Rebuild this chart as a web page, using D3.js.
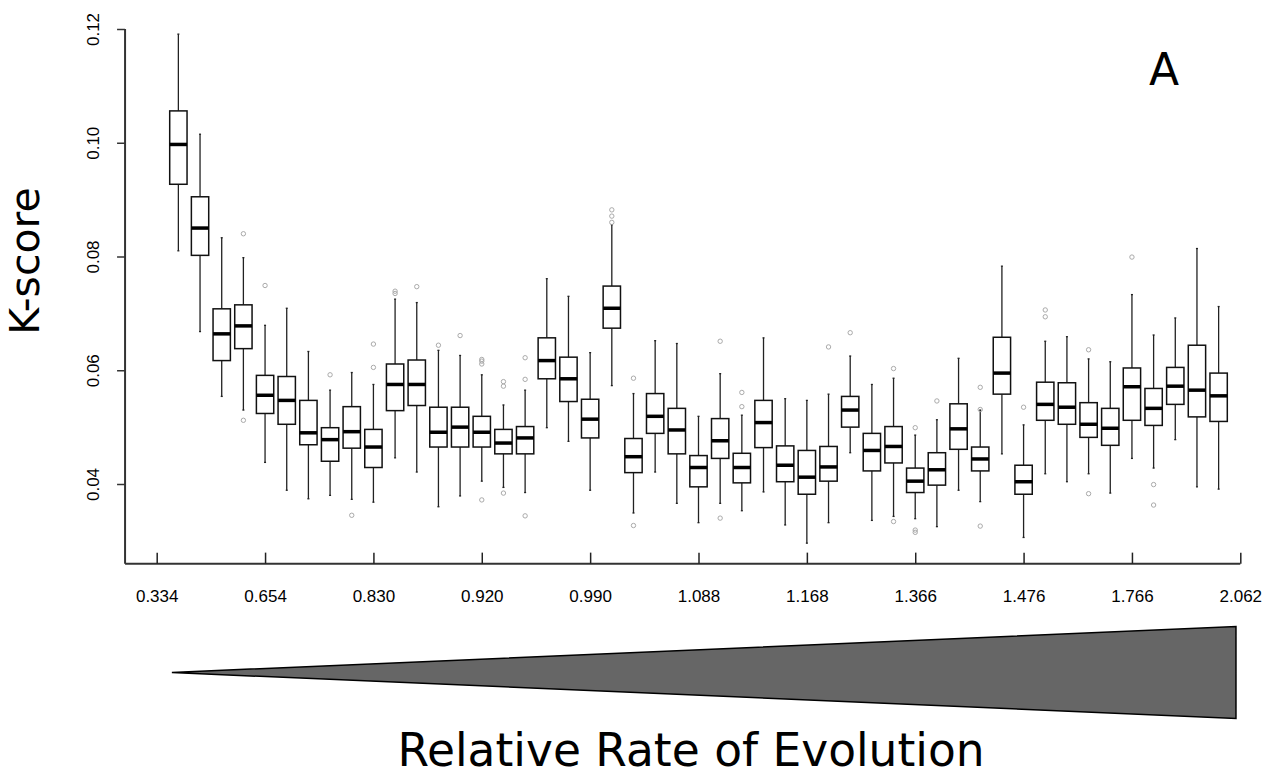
<!DOCTYPE html>
<html>
<head>
<meta charset="utf-8">
<script src="https://cdn.jsdelivr.net/npm/d3@7"></script>
<style>
  html, body { margin: 0; padding: 0; background: #fff; }
  svg { display: block; }
  .tick text { font-family: "Liberation Sans", Arial, sans-serif; font-size: 17px; fill: #000; }
  .title { font-family: "DejaVu Sans", Verdana, sans-serif; fill: #000; }
</style>
</head>
<body>
<svg width="1265" height="776"></svg>
<script>
// box statistics, one entry per bin (positions 1..49)
const whiskerLow = [0.0810, 0.0668, 0.0554, 0.0530, 0.0438, 0.0389, 0.0374, 0.0380, 0.0373, 0.0368,
                    0.0446, 0.0421, 0.0360, 0.0379, 0.0405, 0.0394, 0.0385, 0.0499, 0.0475, 0.0389,
                    0.0573, 0.0349, 0.0421, 0.0366, 0.0332, 0.0366, 0.0353, 0.0386, 0.0328, 0.0296,
                    0.0332, 0.0455, 0.0336, 0.0343, 0.0339, 0.0325, 0.0389, 0.0369, 0.0453, 0.0306,
                    0.0418, 0.0404, 0.0418, 0.0384, 0.0445, 0.0428, 0.0478, 0.0395, 0.0391];
const q1 = [0.0927, 0.0802, 0.0617, 0.0638, 0.0524, 0.0505, 0.0469, 0.0440, 0.0463, 0.0429,
            0.0529, 0.0538, 0.0465, 0.0465, 0.0465, 0.0453, 0.0453, 0.0585, 0.0545, 0.0481,
            0.0674, 0.0420, 0.0489, 0.0453, 0.0395, 0.0445, 0.0402, 0.0464, 0.0404, 0.0382,
            0.0405, 0.0500, 0.0423, 0.0437, 0.0385, 0.0398, 0.0461, 0.0423, 0.0558, 0.0382,
            0.0512, 0.0505, 0.0482, 0.0468, 0.0512, 0.0503, 0.0540, 0.0518, 0.0510];
const median = [0.0997, 0.0850, 0.0664, 0.0678, 0.0556, 0.0547, 0.0490, 0.0478, 0.0492, 0.0465,
                0.0575, 0.0575, 0.0491, 0.0500, 0.0491, 0.0472, 0.0481, 0.0617, 0.0585, 0.0514,
                0.0709, 0.0448, 0.0519, 0.0495, 0.0429, 0.0476, 0.0429, 0.0508, 0.0433, 0.0412,
                0.0430, 0.0530, 0.0459, 0.0466, 0.0405, 0.0425, 0.0497, 0.0444, 0.0595, 0.0404,
                0.0540, 0.0535, 0.0505, 0.0498, 0.0571, 0.0533, 0.0572, 0.0565, 0.0555];
const q3 = [0.1056, 0.0905, 0.0708, 0.0715, 0.0591, 0.0589, 0.0547, 0.0499, 0.0536, 0.0496,
            0.0611, 0.0618, 0.0535, 0.0535, 0.0519, 0.0496, 0.0501, 0.0657, 0.0623, 0.0549,
            0.0748, 0.0480, 0.0559, 0.0533, 0.0450, 0.0515, 0.0454, 0.0547, 0.0467, 0.0459,
            0.0466, 0.0554, 0.0489, 0.0501, 0.0428, 0.0455, 0.0541, 0.0465, 0.0658, 0.0433,
            0.0579, 0.0578, 0.0543, 0.0533, 0.0604, 0.0568, 0.0605, 0.0644, 0.0595];
const whiskerHigh = [0.1191, 0.1015, 0.0833, 0.0798, 0.0679, 0.0709, 0.0633, 0.0565, 0.0596, 0.0575,
                     0.0725, 0.0719, 0.0635, 0.0626, 0.0592, 0.0539, 0.0565, 0.0761, 0.0730, 0.0631,
                     0.0856, 0.0559, 0.0652, 0.0647, 0.0519, 0.0594, 0.0521, 0.0657, 0.0550, 0.0547,
                     0.0558, 0.0625, 0.0575, 0.0586, 0.0486, 0.0513, 0.0621, 0.0530, 0.0783, 0.0504,
                     0.0651, 0.0659, 0.0620, 0.0615, 0.0733, 0.0662, 0.0692, 0.0814, 0.0712];
const outliers = [[], [], [], [0.0840, 0.0512], [0.0749], [], [], [0.0592], [0.0345], [0.0646, 0.0605],
                  [0.0739, 0.0735], [0.0747], [0.0644], [0.0661], [0.0619, 0.0616, 0.0611, 0.0372],
                  [0.0580, 0.0572, 0.0384], [0.0622, 0.0584, 0.0344], [], [], [],
                  [0.0882, 0.0871, 0.0860], [0.0586, 0.0327], [], [], [], [0.0651, 0.0340], [0.0561, 0.0536], [], [], [],
                  [0.0641], [0.0666], [], [0.0603, 0.0334], [0.0499, 0.0319, 0.0315], [0.0546], [],
                  [0.0570, 0.0531, 0.0326], [], [0.0535],
                  [0.0706, 0.0694], [], [0.0636, 0.0383], [], [0.0799], [0.0399, 0.0363], [], [], []];

// x tick labels sit at positions 0, 5, ..., 50
const tickPositions = [0, 5, 10, 15, 20, 25, 30, 35, 40, 45, 50];
const tickLabels = ["0.334", "0.654", "0.830", "0.920", "0.990", "1.088",
                    "1.168", "1.366", "1.476", "1.766", "2.062"];
const yTicks = [0.04, 0.06, 0.08, 0.10, 0.12];

const svg = d3.select("svg");

const x = d3.scaleLinear().domain([0, 50]).range([156.7, 1240.3]);
const y = d3.scaleLinear().domain([0.04, 0.12]).range([484, 29]);

const frameLeft = x(-1.46);
const frameBottom = y(0.026);
const boxW = (x(1) - x(0)) * 0.8;

let boxes = median.map(function(m, i){
    return {pos: i + 1, lo: whiskerLow[i], q1: q1[i], med: m, q3: q3[i], hi: whiskerHigh[i], out: outliers[i]};
});

// frame (L shape)
svg.append("line")
   .attr("x1", frameLeft).attr("x2", frameLeft)
   .attr("y1", y(0.12)).attr("y2", frameBottom)
   .attr("stroke", "#333").attr("stroke-width", 2);
svg.append("line")
   .attr("x1", frameLeft).attr("x2", x(50))
   .attr("y1", frameBottom).attr("y2", frameBottom)
   .attr("stroke", "#333").attr("stroke-width", 2);

// x axis, ticks pointing inward
let xAxis = svg.append("g")
   .attr("transform", `translate(0,${frameBottom})`)
   .call(d3.axisBottom(x).tickValues(tickPositions)
           .tickFormat(function(d, i){ return tickLabels[i]; })
           .tickSizeInner(-11).tickSizeOuter(0).tickPadding(26));
xAxis.select(".domain").remove();
xAxis.selectAll(".tick line").attr("stroke", "#222").attr("stroke-width", 1.5);

// y axis, rotated labels
let yAxis = svg.append("g")
   .attr("transform", `translate(${frameLeft},0)`)
   .call(d3.axisLeft(y).tickValues(yTicks).tickFormat(d3.format(".2f")).tickSize(8));
yAxis.select(".domain").remove();
yAxis.selectAll(".tick line").attr("stroke", "#333").attr("stroke-width", 1.5);
yAxis.selectAll(".tick text")
     .attr("x", 0).attr("dy", 0)
     .attr("text-anchor", "middle")
     .attr("transform", "translate(-26,0) rotate(-90)");

// boxes
let g = svg.append("g").selectAll("g").data(boxes).enter().append("g");

g.append("line")
 .attr("x1", d => x(d.pos)).attr("x2", d => x(d.pos))
 .attr("y1", d => y(d.hi)).attr("y2", d => y(d.q3))
 .attr("stroke", "#222").attr("stroke-width", 1.3);
g.append("line")
 .attr("x1", d => x(d.pos)).attr("x2", d => x(d.pos))
 .attr("y1", d => y(d.q1)).attr("y2", d => y(d.lo))
 .attr("stroke", "#222").attr("stroke-width", 1.3);
// tiny staples
g.selectAll(".staple").data(d => [[d.pos, d.hi], [d.pos, d.lo]]).enter().append("line")
 .attr("x1", d => x(d[0]) - 1).attr("x2", d => x(d[0]) + 1)
 .attr("y1", d => y(d[1])).attr("y2", d => y(d[1]))
 .attr("stroke", "#222").attr("stroke-width", 1.3);

g.append("rect")
 .attr("x", d => x(d.pos) - boxW / 2)
 .attr("y", d => y(d.q3))
 .attr("width", boxW)
 .attr("height", d => y(d.q1) - y(d.q3))
 .attr("fill", "#fff").attr("stroke", "#111").attr("stroke-width", 1.5);

g.append("line")
 .attr("x1", d => x(d.pos) - boxW / 2).attr("x2", d => x(d.pos) + boxW / 2)
 .attr("y1", d => y(d.med)).attr("y2", d => y(d.med))
 .attr("stroke", "#000").attr("stroke-width", 3.5);

g.selectAll("circle").data(d => d.out.map(v => [d.pos, v])).enter().append("circle")
 .attr("cx", d => x(d[0])).attr("cy", d => y(d[1]))
 .attr("r", 2.2)
 .attr("fill", "none").attr("stroke", "#aaa").attr("stroke-width", 1);

// titles
svg.append("text").attr("class", "title")
   .attr("transform", "translate(39,261) rotate(-90)")
   .attr("text-anchor", "middle")
   .style("font-size", "41px")
   .text("K-score");

svg.append("text").attr("class", "title")
   .attr("x", 1164).attr("y", 85)
   .attr("text-anchor", "middle")
   .style("font-size", "44px")
   .text("A");

// gradient wedge for the rate of evolution
const wedge = [[x(0.7), 672.5], [x(49.8), 626.5], [x(49.8), 718.5]];
svg.append("path")
   .attr("d", d3.line()(wedge) + "Z")
   .attr("fill", "#666").attr("stroke", "#000").attr("stroke-width", 1.5);

svg.append("text").attr("class", "title")
   .attr("x", 691).attr("y", 766)
   .attr("text-anchor", "middle")
   .style("font-size", "45.5px")
   .text("Relative Rate of Evolution");
</script>
</body>
</html>
